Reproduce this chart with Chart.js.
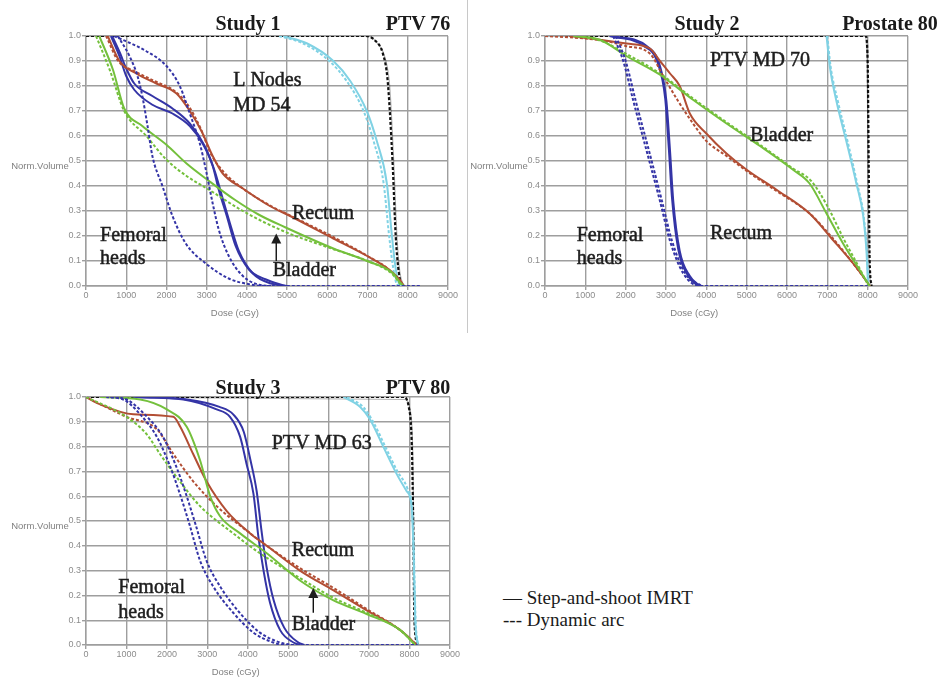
<!DOCTYPE html>
<html>
<head>
<meta charset="utf-8">
<script src="https://cdn.jsdelivr.net/npm/chart.js@4.4.1/dist/chart.umd.min.js"></script>
<style>
  body { margin: 0; background: #fff; }
  #page { position: relative; width: 940px; height: 680px; overflow: hidden; font-family: "Liberation Serif", serif; }
  canvas { position: absolute; }
  .title { position: absolute; font-weight: bold; font-size: 20px; color: #1a1a1a; transform: translate(-50%, -50%); white-space: nowrap; }
  .legend { position: absolute; left: 503px; font-size: 19px; line-height: 22px; color: #1a1a1a; white-space: nowrap; }
  #sep { position: absolute; left: 467px; top: 0; width: 1px; height: 333px; background: #c8c8c8; }
</style>
</head>
<body>
<div id="page">
  <div id="sep"></div>
  <canvas id="study1" width="470" height="320" style="left:0;top:0"></canvas>
  <canvas id="study2" width="480" height="320" style="left:460px;top:0"></canvas>
  <canvas id="study3" width="470" height="360" style="left:0;top:320px"></canvas>
  <div class="title" style="left:248px;top:23px">Study 1</div>
  <div class="title" style="left:418px;top:23px">PTV 76</div>
  <div class="title" style="left:707px;top:23px">Study 2</div>
  <div class="title" style="left:890px;top:23px">Prostate 80</div>
  <div class="title" style="left:248px;top:387px">Study 3</div>
  <div class="title" style="left:418px;top:387px">PTV 80</div>
  <div class="legend" style="top:587px">&mdash; Step-and-shoot IMRT<br>--- Dynamic arc</div>
</div>
<script>
// dose (cGy) vs normalised volume
const doseTicks = [0, 1000, 2000, 3000, 4000, 5000, 6000, 7000, 8000, 9000]
const volumeTicks = [0, 0.1, 0.2, 0.3, 0.4, 0.5, 0.6, 0.7, 0.8, 0.9, 1.0]

// Study 1
const s1PtvStep = [[0,1],[7000,1],[7250,0.97],[7420,0.92],[7550,0.8],[7650,0.5],[7730,0.2],[7800,0.06],[7880,0.01],[7950,0]]
const s1PtvArc = [[0,1],[6950,1],[7200,0.98],[7380,0.93],[7500,0.82],[7620,0.5],[7700,0.2],[7780,0.05],[7860,0]]
const s1NodesStep = [[4900,1],[5500,0.97],[6150,0.9],[6570,0.82],[6980,0.7],[7230,0.58],[7480,0.41],[7600,0.21],[7690,0.08],[7780,0.01],[7850,0]]
const s1NodesArc = [[4800,1],[5400,0.97],[6050,0.9],[6480,0.82],[6900,0.7],[7150,0.58],[7400,0.41],[7530,0.21],[7630,0.08],[7720,0.01],[7800,0]]
const s1RectumStep = [[540,1],[830,0.9],[1250,0.85],[1750,0.81],[2250,0.77],[2580,0.7],[2870,0.62],[3150,0.52],[3400,0.45],[3900,0.39],[4570,0.32],[5075,0.28],[6150,0.19],[6990,0.12],[7500,0.07],[7800,0.025],[7900,0]]
const s1RectumArc = [[500,1],[800,0.9],[1200,0.86],[1700,0.82],[2200,0.78],[2550,0.72],[2850,0.63],[3100,0.53],[3400,0.46],[3900,0.39],[4600,0.32],[5100,0.28],[6100,0.2],[7000,0.12],[7500,0.07],[7800,0.02],[7900,0]]
const s1BladderStep = [[330,1],[670,0.865],[950,0.71],[1400,0.64],[2000,0.565],[2500,0.49],[3060,0.42],[3700,0.345],[4300,0.285],[4950,0.235],[6150,0.15],[6990,0.1],[7640,0.05],[7800,0.015],[7900,0]]
const s1BladderArc = [[250,1],[600,0.86],[950,0.7],[1500,0.6],[2000,0.505],[2500,0.44],[3060,0.385],[3900,0.3],[4900,0.22],[6100,0.15],[7000,0.1],[7600,0.05],[7850,0]]
const s1FemoralStepL = [[620,1],[830,0.92],[1000,0.84],[1200,0.785],[1650,0.725],[2150,0.69],[2580,0.64],[2900,0.57],[3150,0.48],[3300,0.385],[3500,0.28],[3720,0.16],[4050,0.066],[4460,0.027],[4960,0]]
const s1FemoralStepR = [[650,1],[850,0.93],[1000,0.87],[1200,0.81],[1650,0.76],[2150,0.71],[2580,0.65],[2950,0.56],[3200,0.46],[3380,0.36],[3580,0.25],[3800,0.14],[4150,0.05],[4600,0.01],[5000,0]]
const s1FemoralArcL = [[790,1],[1080,0.92],[1280,0.84],[1400,0.76],[1530,0.64],[1650,0.52],[1900,0.4],[2150,0.28],[2480,0.17],[2980,0.09],[3550,0.03],[4130,0.005],[4500,0],[8300,0]]
const s1FemoralArcR = [[700,1],[1490,0.94],[2000,0.88],[2330,0.8],[2580,0.69],[2830,0.57],[2980,0.465],[3150,0.33],[3300,0.226],[3550,0.12],[3900,0.04],[4300,0.005],[4600,0]]

// Study 2
const s2PtvStep = [[0,1],[7930,1],[7985,0.9],[8010,0.5],[8035,0.1],[8090,0]]
const s2PtvArc = [[0,1],[7950,1],[8000,0.9],[8025,0.5],[8050,0.1],[8100,0]]
const s2ProstateStep = [[6980,1],[7060,0.88],[7225,0.74],[7470,0.58],[7720,0.41],[7890,0.28],[7970,0.14],[8010,0.01],[8030,0]]
const s2ProstateArc = [[7000,1],[7080,0.88],[7260,0.74],[7500,0.58],[7740,0.41],[7900,0.28],[7980,0.14],[8020,0]]
const s2BladderStep = [[700,1],[1360,0.985],[2020,0.92],[2850,0.845],[3670,0.745],[4500,0.65],[5330,0.56],[6150,0.465],[6560,0.41],[6980,0.29],[7390,0.17],[7800,0.064],[8010,0.01],[8050,0]]
const s2BladderArc = [[800,1],[1400,0.98],[2000,0.93],[2850,0.85],[3670,0.75],[4500,0.655],[5330,0.565],[6150,0.47],[6600,0.42],[7000,0.32],[7400,0.19],[7800,0.07],[8020,0]]
const s2RectumStep = [[600,1],[1360,0.985],[2020,0.97],[2600,0.95],[2850,0.9],[3100,0.85],[3340,0.8],[3590,0.69],[4000,0.61],[4500,0.53],[5000,0.465],[5740,0.385],[6560,0.29],[7140,0.184],[7640,0.09],[8010,0.01],[8050,0]]
const s2RectumArc = [[0,1],[1000,0.99],[1500,0.98],[2000,0.96],[2600,0.93],[2930,0.84],[3300,0.74],[3670,0.65],[4000,0.58],[4500,0.52],[5000,0.46],[5740,0.38],[6560,0.29],[7140,0.19],[7640,0.09],[8010,0.01],[8050,0]]
const s2FemoralStepL = [[1700,1],[2520,0.96],[2850,0.88],[3010,0.74],[3100,0.54],[3180,0.34],[3340,0.14],[3590,0.04],[3840,0]]
const s2FemoralStepR = [[1600,1],[2450,0.96],[2800,0.89],[2980,0.75],[3070,0.55],[3150,0.35],[3300,0.15],[3550,0.04],[3800,0]]
const s2FemoralArcL = [[1690,1],[1940,0.9],[2190,0.74],[2520,0.54],[2850,0.34],[3100,0.18],[3430,0.05],[3840,0],[8000,0]]
const s2FemoralArcR = [[1750,1],[2000,0.9],[2250,0.74],[2580,0.54],[2900,0.34],[3150,0.18],[3480,0.05],[3880,0]]

// Study 3
const s3PtvStep = [[0,1],[7890,0.99],[8010,0.95],[8080,0.77],[8100,0.5],[8140,0.1],[8220,0]]
const s3PtvArc = [[0,1],[7850,1],[7980,0.96],[8060,0.78],[8090,0.5],[8120,0.1],[8200,0]]
const s3MdStep = [[6360,1],[6780,0.96],[7020,0.91],[7350,0.8],[7680,0.69],[7930,0.62],[8050,0.56],[8100,0.37],[8140,0.1],[8200,0]]
const s3MdArc = [[6450,1],[6850,0.96],[7100,0.9],[7400,0.8],[7700,0.7],[7950,0.63],[8060,0.55],[8110,0.35],[8150,0.1],[8210,0]]
const s3RectumStep = [[0,1],[350,0.97],[1170,0.93],[2160,0.92],[2330,0.88],[2650,0.77],[2980,0.66],[3480,0.54],[4060,0.45],[4470,0.4],[5290,0.3],[6120,0.22],[6940,0.14],[7770,0.06],[8180,0]]
const s3RectumArc = [[0,1],[1000,0.92],[1750,0.87],[2160,0.77],[2650,0.66],[3230,0.56],[4060,0.45],[4470,0.4],[5290,0.31],[6120,0.23],[6940,0.145],[7770,0.06],[8180,0]]
const s3BladderStep = [[350,1],[1340,0.99],[2000,0.95],[2490,0.88],[2820,0.745],[3070,0.6],[3310,0.52],[3810,0.45],[4470,0.37],[5290,0.26],[6120,0.18],[6940,0.125],[7770,0.06],[8140,0]]
const s3BladderArc = [[0,1],[1000,0.92],[1500,0.85],[1830,0.77],[2320,0.66],[2820,0.56],[3640,0.45],[4300,0.37],[5290,0.27],[6120,0.19],[6940,0.13],[7770,0.06],[8140,0]]
const s3FemoralStepL = [[1170,1],[2410,0.99],[3230,0.95],[3560,0.92],[3810,0.84],[3970,0.73],[4140,0.61],[4260,0.44],[4390,0.3],[4550,0.17],[4800,0.06],[5130,0.01],[5290,0]]
const s3FemoralStepR = [[1300,1],[2500,0.99],[3300,0.96],[3640,0.93],[3900,0.86],[4060,0.75],[4220,0.62],[4340,0.46],[4470,0.31],[4640,0.18],[4900,0.07],[5250,0.01],[5400,0]]
const s3FemoralArcL = [[500,1],[920,0.99],[1340,0.93],[1750,0.84],[2080,0.72],[2320,0.61],[2570,0.48],[2820,0.34],[3150,0.235],[3640,0.13],[4140,0.05],[4630,0.01],[4900,0],[8200,0]]
const s3FemoralArcR = [[600,1],[1000,0.99],[1450,0.93],[1900,0.84],[2230,0.72],[2470,0.61],[2720,0.48],[2980,0.34],[3320,0.235],[3800,0.13],[4300,0.05],[4800,0.01],[5100,0]]

const colours = { ptv: '#111111', ptvStep: 'rgba(0,0,0,0.3)', target: '#80d2e4', rectum: '#b24e34', bladder: '#74c03c', femoral: '#3434a6' }

function toPoints(pairs) {
    return pairs.map(p => ({x: p[0], y: p[1]}))
}

function curve(pairs, colour, arc, width) {
    return {
        data: toPoints(pairs),
        borderColor: colour,
        borderWidth: width || 2,
        borderDash: arc ? [3, 2] : [],
        pointRadius: 0,
        fill: false,
        cubicInterpolationMode: 'monotone'
    }
}

// labels and arrows drawn straight on the canvas at data positions
const notesPlugin = {
    id: 'dvhNotes',
    afterDatasetsDraw(chart, args, opts) {
        const ctx = chart.ctx
        const xs = chart.scales.x, ys = chart.scales.y
        const area = chart.chartArea
        ctx.save()
        ctx.fillStyle = '#1e1e1e'
        ctx.strokeStyle = '#1e1e1e'
        ctx.lineWidth = 0.5
        ctx.font = '20px "Liberation Serif"'
        ctx.textAlign = 'left'
        ctx.textBaseline = 'middle'
        opts.labels.forEach(l => {
            const x = xs.getPixelForValue(l.dose), y = ys.getPixelForValue(l.vol)
            ctx.fillText(l.text, x, y)
            ctx.strokeText(l.text, x, y)
        })
        opts.arrows.forEach(a => {
            const x = xs.getPixelForValue(a.dose)
            const y0 = ys.getPixelForValue(a.from), y1 = ys.getPixelForValue(a.to)
            ctx.strokeStyle = '#111'
            ctx.lineWidth = 1.4
            ctx.beginPath(); ctx.moveTo(x, y0); ctx.lineTo(x, y1 + 6); ctx.stroke()
            ctx.beginPath(); ctx.moveTo(x, y1); ctx.lineTo(x - 5, y1 + 10); ctx.lineTo(x + 5, y1 + 10); ctx.closePath(); ctx.fill()
        })
        ctx.fillStyle = '#808080'
        ctx.font = '9.5px "Liberation Sans"'
        ctx.textAlign = 'center'
        ctx.fillText('Norm.Volume', area.left - 46, ys.getPixelForValue(0.48))
        ctx.fillText('Dose (cGy)', xs.getPixelForValue(3700), area.bottom + 27)
        ctx.restore()
    }
}

function makeChart(id, datasets, frame, notes) {
    const tickFont = {family: 'Liberation Sans', size: 9}
    const gridStyle = {color: '#9e9e9e', lineWidth: 1.4, tickLength: 4}
    return new Chart(document.getElementById(id), {
        type: 'line',
        data: { datasets: datasets },
        options: {
            responsive: false,
            animation: false,
            layout: { padding: { top: frame.top, right: frame.right, left: 0, bottom: 0 } },
            plugins: { legend: { display: false }, tooltip: { enabled: false }, dvhNotes: notes },
            scales: {
                x: {
                    type: 'linear', min: doseTicks[0], max: doseTicks[doseTicks.length - 1],
                    afterBuildTicks: s => { s.ticks = doseTicks.map(v => ({value: v})) },
                    ticks: { font: tickFont, color: '#8c8c8c', padding: 0, maxRotation: 0, autoSkip: false, callback: v => String(v) },
                    grid: gridStyle,
                    border: { color: '#9e9e9e', width: 1.4 },
                    afterFit: s => { s.height = frame.xAxis }
                },
                y: {
                    type: 'linear', min: 0, max: 1,
                    afterBuildTicks: s => { s.ticks = volumeTicks.map(v => ({value: v})) },
                    ticks: { font: tickFont, color: '#8c8c8c', padding: 1, callback: v => v.toFixed(1) },
                    grid: gridStyle,
                    border: { color: '#9e9e9e', width: 1.4 },
                    afterFit: s => { s.width = frame.yAxis }
                }
            }
        },
        plugins: [notesPlugin]
    })
}

makeChart('study1', [
    curve(s1FemoralArcL, colours.femoral, true), curve(s1FemoralArcR, colours.femoral, true),
    curve(s1BladderArc, colours.bladder, true), curve(s1BladderStep, colours.bladder, false),
    curve(s1RectumArc, colours.rectum, true), curve(s1RectumStep, colours.rectum, false),
    curve(s1FemoralStepL, colours.femoral, false), curve(s1FemoralStepR, colours.femoral, false),
    curve(s1NodesArc, colours.target, true), curve(s1NodesStep, colours.target, false),
    curve(s1PtvStep, colours.ptvStep, false, 1.2), curve(s1PtvArc, colours.ptv, true, 2.2)
], {top: 36, right: 22, yAxis: 86, xAxis: 34}, {
    labels: [
        {text: 'L Nodes', dose: 3660, vol: 0.82}, {text: 'MD 54', dose: 3660, vol: 0.72},
        {text: 'Rectum', dose: 5120, vol: 0.29},
        {text: 'Femoral', dose: 350, vol: 0.2}, {text: 'heads', dose: 350, vol: 0.11},
        {text: 'Bladder', dose: 4640, vol: 0.06}
    ],
    arrows: [{dose: 4730, from: 0.1, to: 0.21}]
})

makeChart('study2', [
    curve(s2FemoralArcL, colours.femoral, true), curve(s2FemoralArcR, colours.femoral, true),
    curve(s2BladderArc, colours.bladder, true), curve(s2BladderStep, colours.bladder, false),
    curve(s2RectumArc, colours.rectum, true), curve(s2RectumStep, colours.rectum, false),
    curve(s2FemoralStepL, colours.femoral, false), curve(s2FemoralStepR, colours.femoral, false),
    curve(s2ProstateArc, colours.target, true), curve(s2ProstateStep, colours.target, false),
    curve(s2PtvStep, colours.ptvStep, false, 1.2), curve(s2PtvArc, colours.ptv, true, 2.2)
], {top: 36, right: 32, yAxis: 85, xAxis: 34}, {
    labels: [
        {text: 'PTV MD 70', dose: 4090, vol: 0.9},
        {text: 'Bladder', dose: 5080, vol: 0.6},
        {text: 'Rectum', dose: 4090, vol: 0.21},
        {text: 'Femoral', dose: 785, vol: 0.2}, {text: 'heads', dose: 785, vol: 0.11}
    ],
    arrows: []
})

makeChart('study3', [
    curve(s3FemoralArcL, colours.femoral, true), curve(s3FemoralArcR, colours.femoral, true),
    curve(s3BladderArc, colours.bladder, true), curve(s3BladderStep, colours.bladder, false),
    curve(s3RectumArc, colours.rectum, true), curve(s3RectumStep, colours.rectum, false),
    curve(s3FemoralStepL, colours.femoral, false), curve(s3FemoralStepR, colours.femoral, false),
    curve(s3MdArc, colours.target, true), curve(s3MdStep, colours.target, false),
    curve(s3PtvStep, colours.ptvStep, false, 1.2), curve(s3PtvArc, colours.ptv, true, 2.2)
], {top: 77, right: 20, yAxis: 86, xAxis: 35}, {
    labels: [
        {text: 'PTV MD 63', dose: 4590, vol: 0.81},
        {text: 'Rectum', dose: 5090, vol: 0.38},
        {text: 'Femoral', dose: 800, vol: 0.23}, {text: 'heads', dose: 800, vol: 0.13},
        {text: 'Bladder', dose: 5090, vol: 0.08}
    ],
    arrows: [{dose: 5620, from: 0.13, to: 0.23}]
})
</script>
</body>
</html>
